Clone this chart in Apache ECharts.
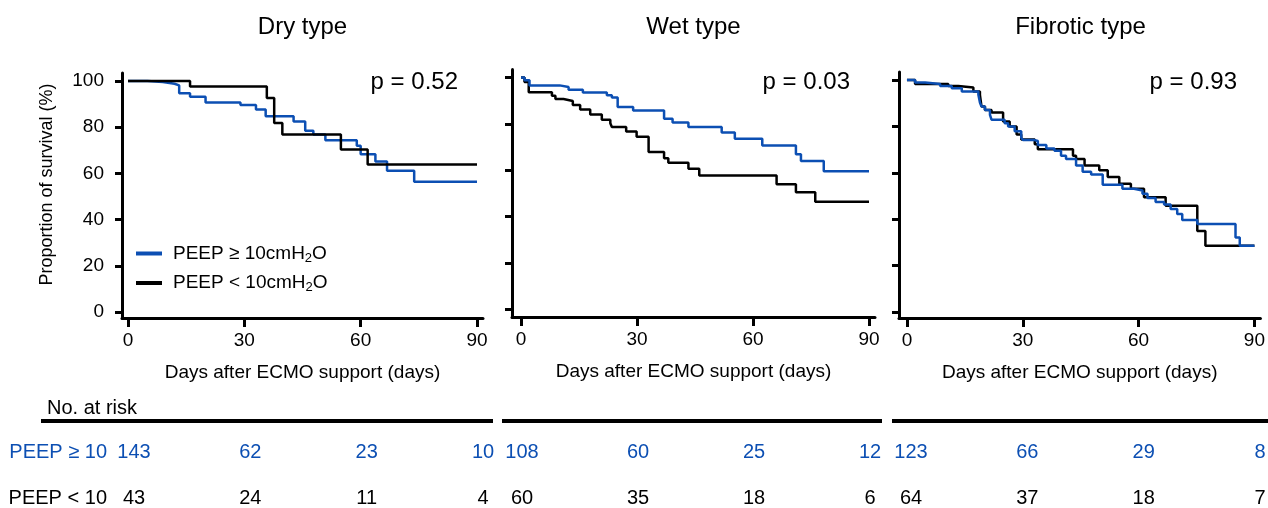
<!DOCTYPE html>
<html>
<head>
<meta charset="utf-8">
<title>Survival by PEEP</title>
<script src="https://cdn.jsdelivr.net/npm/echarts@6/dist/echarts.min.js"></script>
<style>
  html, body { margin: 0; padding: 0; background: #fff; }
  #chart { width: 1268px; height: 508px; }
</style>
</head>
<body>
<div id="chart"></div>
<script>
// survival curves: [day, proportion of survival %]
var dryHigh = [[0, 100], [5, 99.6], [9, 98.8], [12, 98.1], [13.2, 94.7], [16, 93.2], [20, 90.7], [29, 89.6], [33, 87.7], [35.5, 84.7], [42.7, 82.5], [45.7, 78.5], [47.8, 76.8], [50.9, 74.4], [59, 72], [60, 68.3], [63.8, 65.2], [66.8, 61.1], [73.8, 56.4], [90, 56.4]];
var dryLow = [[0, 100], [16, 97.6], [35.8, 92.6], [37.7, 81.8], [39.8, 76.8], [54.9, 70.4], [61.8, 63.8], [90, 63.8]];

var wetHigh = [[0, 100], [0.9, 98.8], [2.2, 96.6], [10, 95.9], [12.3, 94.7], [16, 93.5], [22.2, 92.4], [23.5, 91.4], [25, 87.3], [29, 85.8], [37, 82.2], [39.2, 80.6], [43.3, 78.7], [51.9, 76.3], [55.3, 73.6], [62.4, 70.7], [71.1, 66.9], [72.4, 64], [78.3, 59.6], [90, 59.6]];
var wetLow = [[0, 100], [0.9, 98.1], [2, 93.6], [8, 92.1], [8.9, 90.7], [11, 89.9], [13.4, 88.1], [15.3, 86.2], [17.9, 84], [20.9, 81.8], [23.1, 80.3], [23.5, 78.7], [27.2, 76.7], [29.9, 74.5], [33, 67.9], [37, 65.2], [38.1, 63.3], [43.3, 60.7], [46.1, 57.8], [66.1, 54], [71.1, 50.5], [76.1, 46.4], [90, 46.4]];

var fibHigh = [[0, 100], [2.1, 98.9], [4.7, 98.3], [8.6, 97.4], [11.6, 96.4], [14.2, 95], [18.5, 93.6], [18.9, 90.3], [19.3, 88.6], [20.2, 87.1], [21.5, 85], [21.9, 82.9], [25.3, 81.4], [26.2, 80], [27.9, 77.9], [29.6, 75.1], [30.1, 74.1], [33.1, 73.7], [33.9, 72], [36.1, 70.5], [38.2, 69.5], [39.9, 67.4], [41.2, 66], [43.8, 63.2], [45.5, 60.4], [47.7, 59.3], [50.7, 54.9], [55.8, 53.1], [58.8, 52.4], [61, 51], [62.3, 49.1], [64.4, 47.4], [66.6, 46.3], [68.3, 44.4], [70, 42.2], [71.3, 39.7], [75.2, 37.9], [85.1, 32.1], [86.2, 28.6], [90, 28.6]];
var fibLow = [[0, 100], [2.1, 98.3], [10.7, 97.4], [13.3, 96.8], [17.2, 95], [18.9, 93.6], [19.3, 88.6], [20.2, 87.1], [21.9, 86], [24.9, 82.1], [26.6, 80], [28.4, 76.5], [29.6, 74.4], [33.1, 72.3], [33.9, 70.2], [43, 67.4], [43.8, 66], [46, 63.2], [49.8, 61.1], [52, 58.2], [55, 55.3], [58, 53.1], [61.4, 49.5], [67, 45.8], [75.2, 34.9], [77.3, 28.6], [90, 28.6]];

// numbers at risk
var riskDays = [0, 30, 60, 90];
var dryRiskHigh = [143, 62, 23, 10];
var dryRiskLow = [43, 24, 11, 4];
var wetRiskHigh = [108, 60, 25, 12];
var wetRiskLow = [60, 35, 18, 6];
var fibRiskHigh = [123, 66, 29, 8];
var fibRiskLow = [64, 37, 18, 7];

var dayTicks = [0, 30, 60, 90];
var pctTicks = [0, 20, 40, 60, 80, 100];
var panelTitles = ['Dry type', 'Wet type', 'Fibrotic type'];
var pValues = ['p = 0.52', 'p = 0.03', 'p = 0.93'];
var riskRows = ['PEEP ≥ 10', 'PEEP < 10'];
var nameHigh = 'PEEP ≥ 10cmH2O';
var nameLow = 'PEEP < 10cmH2O';

var BLUE = '#0c4fb3';
var FONT = '"Liberation Sans", Arial, Helvetica, sans-serif';

var curves = [[dryHigh, dryLow], [wetHigh, wetLow], [fibHigh, fibLow]];
var risks = [[dryRiskHigh, dryRiskLow], [wetRiskHigh, wetRiskLow], [fibRiskHigh, fibRiskLow]];

// pixel layout of each panel (axis lines are offset from the data origin)
var layout = [
  { axisX: 122, x0: 128, x90: 477, y100: 81, y0: 312, axisY: 318, tableLine: [41, 493], riskShift: 6, blueOnTop: false },
  { axisX: 512, x0: 521, x90: 869, y100: 77.5, y0: 309.5, axisY: 317, tableLine: [502, 882], riskShift: 1, blueOnTop: true },
  { axisX: 899, x0: 907, x90: 1256, y100: 80, y0: 312, axisY: 318, tableLine: [892, 1268], riskShift: 4, blueOnTop: true }
];

var grids = [], xAxes = [], yAxes = [], series = [], graphics = [];
var riskGrids = [], riskX = [], riskY = [];

layout.forEach(function (L, i) {
  var pxDay = (L.x90 - L.x0) / 90;
  var pxPct = (L.y0 - L.y100) / 100;
  var right = L.x90 + 6;
  var top = L.y100 - 8;
  var xMin = -(L.x0 - L.axisX) / pxDay;
  var xMax = 90 + (right - L.x90) / pxDay;

  grids.push({ left: L.axisX, top: top, width: right - L.axisX, height: L.axisY - top });
  xAxes.push({
    gridIndex: i, type: 'value', min: xMin, max: xMax,
    name: 'Days after ECMO support (days)', nameLocation: 'middle', nameGap: 45,
    nameTextStyle: { fontSize: 19, fontFamily: FONT, color: '#000' },
    axisLine: { onZero: false, lineStyle: { color: '#000', width: 3 } },
    axisTick: { customValues: dayTicks, length: 9, lineStyle: { color: '#000', width: 3 } },
    axisLabel: { customValues: dayTicks, margin: 13, fontSize: 19, fontFamily: FONT, color: '#000' },
    splitLine: { show: false }
  });
  yAxes.push({
    gridIndex: i, type: 'value',
    min: -(L.axisY - L.y0) / pxPct, max: 100 + (L.y100 - top) / pxPct,
    name: i === 0 ? 'Proportion of survival (%)' : '',
    nameLocation: 'middle', nameGap: 66, nameRotate: 90,
    nameTextStyle: { fontSize: 18, fontFamily: FONT, color: '#000', padding: [0, 0, 0, 22] },
    axisLine: { onZero: false, lineStyle: { color: '#000', width: 3 } },
    axisTick: { customValues: pctTicks, length: 7, lineStyle: { color: '#000', width: 3 } },
    axisLabel: { show: i === 0, customValues: pctTicks, margin: 18, fontSize: 19, fontFamily: FONT, color: '#000' },
    splitLine: { show: false }
  });

  series.push({
    name: nameHigh, type: 'line', step: 'end', xAxisIndex: i, yAxisIndex: i,
    data: curves[i][0], showSymbol: false, symbol: 'none',
    itemStyle: { color: BLUE }, lineStyle: { color: BLUE, width: 2.5 }, z: L.blueOnTop ? 3 : 2
  });
  series.push({
    name: nameLow, type: 'line', step: 'end', xAxisIndex: i, yAxisIndex: i,
    data: curves[i][1], showSymbol: false, symbol: 'none',
    itemStyle: { color: '#000' }, lineStyle: { color: '#000', width: 2.5 }, z: L.blueOnTop ? 2 : 3
  });

  // number-at-risk table under each panel: row 0 at top, row 1 at bottom
  var g = 3 + i;
  riskGrids.push({ left: L.axisX, top: 452, width: right - L.axisX, height: 46 });
  riskX.push({ gridIndex: g, type: 'value', min: xMin, max: xMax, show: false });
  riskY.push({
    gridIndex: g, type: 'value', min: 0, max: 1, inverse: true,
    axisLine: { show: false }, axisTick: { show: false }, splitLine: { show: false },
    axisLabel: {
      show: i === 0, customValues: [0, 1], margin: 15, fontSize: 20, fontFamily: FONT,
      formatter: function (v) { return riskRows[Math.round(v)]; },
      color: function (v) { return Math.round(v) === 0 ? BLUE : '#000'; }
    }
  });
  var rows = [];
  [0, 1].forEach(function (r) {
    riskDays.forEach(function (d, k) { rows.push([d, r, risks[i][r][k]]); });
  });
  series.push({
    type: 'custom', xAxisIndex: g, yAxisIndex: g, silent: true, data: rows,
    renderItem: function (params, api) {
      var pt = api.coord([api.value(0), api.value(1)]);
      return {
        type: 'text', x: pt[0] + L.riskShift, y: pt[1],
        style: {
          text: String(api.value(2)), fontSize: 20, fontFamily: FONT,
          fill: api.value(1) === 0 ? BLUE : '#000', align: 'center', verticalAlign: 'middle'
        }
      };
    }
  });

  graphics.push({
    type: 'text', x: (L.axisX + right) / 2, y: 27,
    style: { text: panelTitles[i], fontSize: 24, fontFamily: FONT, fill: '#000', align: 'center', verticalAlign: 'middle' }
  });
  graphics.push({
    type: 'text', x: L.x90 - 19, y: 82,
    style: { text: pValues[i], fontSize: 24, fontFamily: FONT, fill: '#000', align: 'right', verticalAlign: 'middle' }
  });
  graphics.push({
    type: 'line', shape: { x1: L.tableLine[0], y1: 421, x2: L.tableLine[1], y2: 421 },
    style: { stroke: '#000', lineWidth: 4 }
  });
});

graphics.push({
  type: 'text', x: 47, y: 408,
  style: { text: 'No. at risk', fontSize: 20, fontFamily: FONT, fill: '#000', align: 'left', verticalAlign: 'middle' }
});

var myChart = echarts.init(document.getElementById('chart'));

var option = {
  animation: false,
  backgroundColor: '#fff',
  grid: grids.concat(riskGrids),
  xAxis: xAxes.concat(riskX),
  yAxis: yAxes.concat(riskY),
  legend: {
    data: [nameHigh, nameLow],
    orient: 'vertical', left: 131, top: 239,
    icon: 'rect', itemWidth: 26, itemHeight: 4, itemGap: 9,
    formatter: function (n) { return '{f|' + n.replace('H2O', 'H}{s|2}{a|O}'); },
    textStyle: {
      rich: {
        f: { fontSize: 19, fontFamily: FONT, color: '#000', lineHeight: 22, padding: [0, 0, 0, 6] },
        a: { fontSize: 19, fontFamily: FONT, color: '#000', lineHeight: 22 },
        s: { fontSize: 13, fontFamily: FONT, color: '#000', lineHeight: 13, verticalAlign: 'bottom' }
      }
    }
  },
  graphic: graphics,
  series: series
};

myChart.setOption(option);
</script>
</body>
</html>
